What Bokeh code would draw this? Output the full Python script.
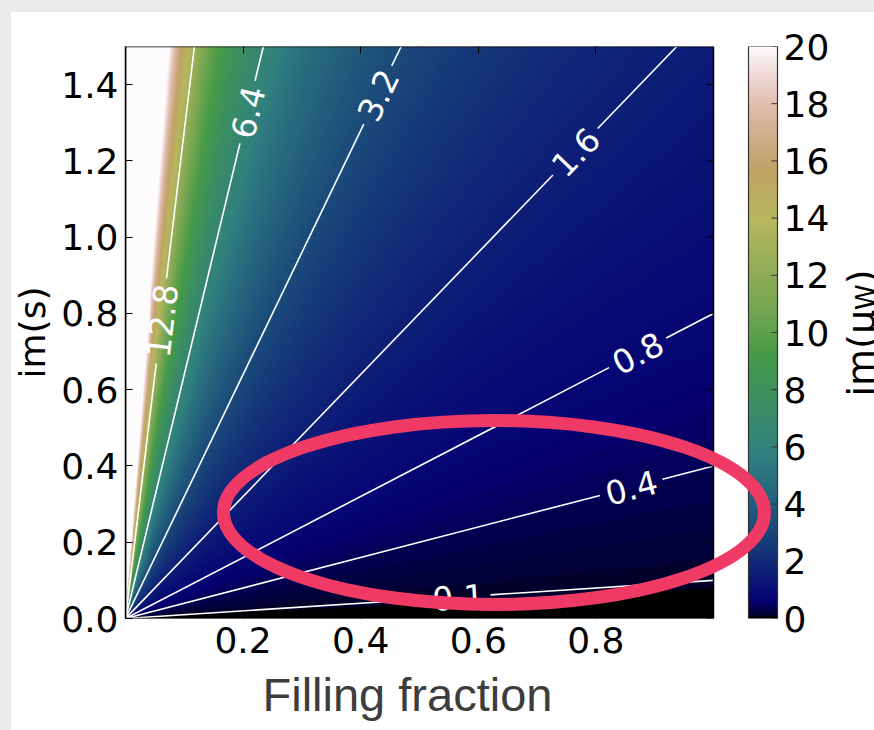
import numpy as np
from bokeh.plotting import figure
from bokeh.models import (LinearColorMapper, FixedTicker, LinearAxis, Label, Range1d,
                          PrintfTickFormatter, Title)
from bokeh.core.properties import value
from bokeh.embed import file_html
from bokeh.resources import INLINE

# ---------------- data ----------------
filling_range = [0.0, 1.0]          # x: filling fraction
im_s_range = [0.0, 1.5]             # y: im(s)
colour_range = [0.0, 20.0]          # im(mu_W) colour scale
contour_levels = [0.1, 0.4, 0.8, 1.6, 3.2, 6.4, 12.8]
contour_label_text = ["0.1", "0.4", "0.8", "1.6", "3.2", "6.4", "12.8"]
contour_label_f = [0.566, 0.86, 0.871, 0.765, 0.429, 0.2075, 0.061]
x_ticks = [0.2, 0.4, 0.6, 0.8]
y_ticks = [0.0, 0.2, 0.4, 0.6, 0.8, 1.0, 1.2, 1.4]
cbar_ticks = [0, 2, 4, 6, 8, 10, 12, 14, 16, 18, 20]

# field shown by the picture: the contours are rays im(s) = level * f,
# i.e. im(mu_W) = im(s) / f
NF, NS = 600, 600
f_c = filling_range[0] + (np.arange(NF) + 0.5) / NF * (filling_range[1] - filling_range[0])
s_c = im_s_range[0] + (np.arange(NS) + 0.5) / NS * (im_s_range[1] - im_s_range[0])
F, S = np.meshgrid(f_c, s_c)
field = np.clip(S / F, colour_range[0], colour_range[1])

# ---------------- gist_earth colour map ----------------
_ge_r = [(0.0, 0.0), (0.2824, 0.1882), (0.4588, 0.2714), (0.5490, 0.4719),
         (0.6980, 0.7176), (0.7882, 0.7553), (1.0, 0.9922)]
_ge_g = [(0.0, 0.0), (0.0275, 0.0), (0.1098, 0.1893), (0.1647, 0.3035),
         (0.2078, 0.3841), (0.2824, 0.5020), (0.5216, 0.6397), (0.6980, 0.7171),
         (0.7882, 0.6392), (0.7922, 0.6413), (0.8000, 0.6447), (0.8078, 0.6481),
         (0.8157, 0.6549), (0.8667, 0.6991), (0.8745, 0.7103), (0.8824, 0.7216),
         (0.8902, 0.7323), (0.8980, 0.7430), (0.9412, 0.8275), (0.9569, 0.8635),
         (0.9647, 0.8816), (0.9961, 0.9733), (1.0, 0.9843)]
_ge_b = [(0.0, 0.0), (0.0039, 0.1684), (0.0078, 0.2212), (0.0275, 0.4329),
         (0.0314, 0.4549), (0.2824, 0.5004), (0.4667, 0.2748), (0.5451, 0.3205),
         (0.7843, 0.3961), (0.8941, 0.6651), (1.0, 0.9843)]


def _chan(pts, t):
    xs, ys = zip(*pts)
    return np.interp(t, xs, ys)


_t = np.linspace(0, 1, 256)
palette = ["#%02x%02x%02x" % (int(round(r * 255)), int(round(g * 255)), int(round(b * 255)))
           for r, g, b in zip(_chan(_ge_r, _t), _chan(_ge_g, _t), _chan(_ge_b, _t))]

# ---------------- layout (pixels) ----------------
W, H = 874, 730
FL, FT, FB = 125, 46, 618          # plot frame left / top / bottom
HR = 713                           # right edge of the heat map
CB_L, CB_R = 748, 777              # colour bar
TICK_FONT = "DejaVu Sans"

sx = (HR - FL) / (filling_range[1] - filling_range[0])
sy = (FB - FT) / (im_s_range[1] - im_s_range[0])


def _dx(px):
    return filling_range[0] + (px - FL) / sx


def _dy(py):
    return im_s_range[0] + (FB - py) / sy


p = figure(width=W, height=H,
           x_range=Range1d(filling_range[0], _dx(W)), y_range=Range1d(*im_s_range),
           output_backend="svg", toolbar_location=None,
           min_border_left=FL, min_border_top=FT,
           min_border_right=0, min_border_bottom=H - FB,
           border_fill_color=None, background_fill_color=None,
           outline_line_color=None, margin=0)
p.styles = {"background": "linear-gradient(to right, #ebebeb 11px, rgba(255,255,255,0) 11px), "
                          "linear-gradient(to bottom, #ebebeb 12px, #ffffff 12px)"}
p.grid.visible = False
p.extra_y_ranges = {"cbar": Range1d(*colour_range)}

mapper = LinearColorMapper(palette=palette, low=colour_range[0], high=colour_range[1])
p.image(image=[field], x=filling_range[0], y=im_s_range[0],
        dw=filling_range[1] - filling_range[0], dh=im_s_range[1] - im_s_range[0],
        color_mapper=mapper)

# contour rays with inline labels
CFS = 33
char_w = {".": 0.318}
seg_xs, seg_ys = [], []
lab_x, lab_y, lab_a = [], [], []
for lev, fl, txt in zip(contour_levels, contour_label_f, contour_label_text):
    x_end = min(filling_range[1], im_s_range[1] / lev)
    d_per_x = np.hypot(sx, lev * sy)
    tw = sum(char_w.get(c, 0.636) for c in txt) * CFS
    half = (tw / 2 + 6) / d_per_x
    seg_xs += [[0.0, fl - half], [fl + half, x_end]]
    seg_ys += [[0.0, lev * (fl - half)], [lev * (fl + half), lev * x_end]]
    lab_x.append(fl)
    lab_y.append(lev * fl)
    lab_a.append(float(np.arctan2(lev * sy, sx)))

p.multi_line(xs=seg_xs, ys=seg_ys, line_color="white", line_width=1.6)
p.text(x=lab_x, y=lab_y, text=contour_label_text, angle=lab_a,
       text_align="center", text_baseline="middle", text_color="white",
       text_font=value(TICK_FONT), text_font_size=f"{CFS}px")

# heat-map outline and mirrored right-hand ticks
p.quad(left=filling_range[0], right=filling_range[1], bottom=im_s_range[0], top=im_s_range[1],
       fill_color=None, line_color="black", line_width=1.5)
p.segment(x0=[filling_range[1] - 7 / sx] * len(y_ticks), y0=y_ticks,
          x1=[filling_range[1]] * len(y_ticks), y1=y_ticks, line_color="black", line_width=1)

# axes
for ax in (p.xaxis[0], p.yaxis[0]):
    ax.major_label_text_font = TICK_FONT
    ax.major_label_text_font_size = "36px"
    ax.major_label_text_color = "black"
    ax.major_tick_in = 7
    ax.major_tick_out = 0
    ax.major_tick_line_color = "black"
    ax.minor_tick_line_color = None
p.xaxis.axis_line_color = None
p.yaxis.axis_line_color = "black"
p.yaxis.axis_line_width = 1.5
p.xaxis.ticker = FixedTicker(ticks=x_ticks)
p.yaxis.ticker = FixedTicker(ticks=y_ticks)
p.xaxis.formatter = PrintfTickFormatter(format="%.1f")
p.yaxis.formatter = PrintfTickFormatter(format="%.1f")
p.xaxis.major_label_standoff = 8
p.yaxis.major_label_standoff = 7

p.yaxis.axis_label = "im(s)"
p.yaxis.axis_label_text_font = TICK_FONT
p.yaxis.axis_label_text_font_size = "36px"
p.yaxis.axis_label_text_font_style = "normal"
p.yaxis.axis_label_text_color = "black"
p.yaxis.axis_label_standoff = 5

top_axis = LinearAxis(ticker=FixedTicker(ticks=x_ticks), major_label_text_font_size="0px",
                      major_label_text_color=None, major_label_standoff=0,
                      major_tick_in=7, major_tick_out=0, minor_tick_line_color=None,
                      axis_line_color=None)
p.add_layout(top_axis, "above")

# colour-bar scale axis (labels pulled back next to the bar)
cbar_axis = LinearAxis(y_range_name="cbar", ticker=FixedTicker(ticks=cbar_ticks),
                       major_label_text_font=TICK_FONT, major_label_text_font_size="36px",
                       major_label_text_color="black",
                       major_label_standoff=(CB_R + 6) - W,
                       major_tick_line_color=None, minor_tick_line_color=None,
                       major_tick_in=0, major_tick_out=0, axis_line_color=None)
p.add_layout(cbar_axis, "right")

x_title = Title(text="Filling fraction", align="left", offset=137,
                text_font="Liberation Sans", text_font_size="47px",
                text_font_style="normal", text_color="#3d3d3d", standoff=20)
p.add_layout(x_title, "below")

# colour bar (gradient, outline, ticks)
cb_x0, cb_x1 = _dx(CB_L), _dx(CB_R)
cb_grad = np.linspace(colour_range[0], colour_range[1], 256)[:, None]
p.image(image=[cb_grad], x=cb_x0, y=colour_range[0], dw=cb_x1 - cb_x0,
        dh=colour_range[1] - colour_range[0], color_mapper=mapper, y_range_name="cbar")
p.quad(left=cb_x0, right=cb_x1, bottom=colour_range[0], top=colour_range[1],
       fill_color=None, line_color="#333333", line_width=1.2, y_range_name="cbar")
p.segment(x0=[cb_x1 - 6 / sx] * len(cbar_ticks), y0=cbar_ticks,
          x1=[cb_x1] * len(cbar_ticks), y1=cbar_ticks,
          line_color="#333333", line_width=1, y_range_name="cbar")

# colour-bar title im(mu_W), written bottom-to-top
adv = {"i": 0.278, "m": 0.974, "(": 0.390, "\u03bc": 0.636, "W": 0.989, ")": 0.390}
pieces = [("im(\u03bc", 38, 0), ("W", 26, 5), (")", 38, 0)]
base_x, start_y = 860, 396
for txt, fs, shift in pieces:
    p.add_layout(Label(x=_dx(base_x + shift), y=_dy(start_y), text=txt, angle=np.pi / 2,
                       text_align="left", text_baseline="alphabetic",
                       text_font=TICK_FONT, text_font_size=f"{fs}px", text_color="black"))
    start_y -= sum(adv[c] for c in txt) * fs

# highlight ellipse drawn over everything
ell_cx, ell_cy, ell_a, ell_b = 493.5, 512.0, 270.5, 92.0
p.ellipse(x=[_dx(ell_cx)], y=[_dy(ell_cy)], width=[2 * ell_a / sx], height=[2 * ell_b / sy],
          fill_color=None, line_color="#f03a66", line_width=13)

open("out.html", "w").write(file_html(p, INLINE))
